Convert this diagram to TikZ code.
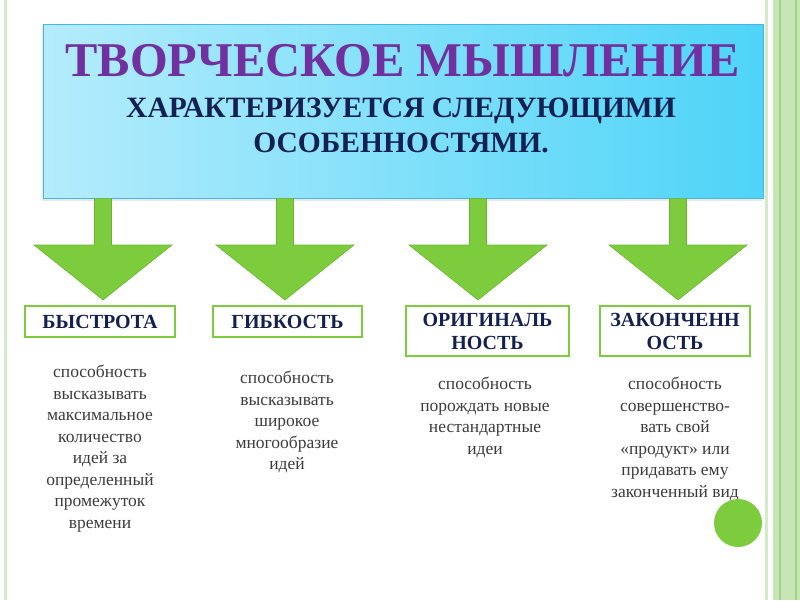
\documentclass[tikz,border=0pt]{standalone}
\usepackage{fontspec}
\setmainfont{Liberation Serif}
\usepackage{tikz}
\definecolor{leafgreen}{RGB}{125, 204, 62}
\definecolor{leafdark}{RGB}{106, 182, 48}
\definecolor{bandgreen}{RGB}{200, 229, 182}
\definecolor{paleline}{RGB}{212, 235, 199}
\definecolor{stripe}{RGB}{160, 212, 134}
\definecolor{skyleft}{RGB}{180, 236, 252}
\definecolor{skyright}{RGB}{78, 212, 248}
\definecolor{skyborder}{RGB}{72, 183, 221}
\definecolor{plum}{RGB}{112, 48, 160}
\definecolor{navy}{RGB}{20, 32, 80}
\definecolor{inkgray}{RGB}{60, 60, 60}
\usetikzlibrary{calc, shadows}

\begin{document}
\begin{tikzpicture}[x=1pt, y=-1pt,
    headbox/.style={draw=skyborder, line width=0.8pt, left color=skyleft,
                    right color=skyright, minimum width=720pt, minimum height=174pt,
                    drop shadow={shadow xshift=-1.5pt, shadow yshift=-2.5pt, opacity=0.18}},
    labelbox/.style={draw=leafgreen, line width=2pt, fill=white, text=navy,
                     font=\fontsize{20}{23}\selectfont\bfseries, align=center, inner sep=0pt},
    blurb/.style={text=inkgray, font=\fontsize{17.5}{21.5}\selectfont,
                  align=center, anchor=north, inner sep=0pt},
    fatarrow/.style={fill=leafgreen, draw=leafdark, line width=0.6pt}
]
    \useasboundingbox (0,0) rectangle (800,600);

    % page borders
    \fill[paleline] (4,0) rectangle (7,600);
    \fill[paleline] (765,0) rectangle (768,600);
    \fill[bandgreen] (773,0) rectangle (800,600);
    \fill[stripe] (779,0) rectangle (781,600);
    \fill[stripe] (795,0) rectangle (797,600);

    % heading
    \node[headbox] (title) at (403,111) {};
    \node[anchor=base, text=plum, font=\fontsize{48.5}{50}\selectfont\bfseries] (head)
        at (402.5,76) {ТВОРЧЕСКОЕ МЫШЛЕНИЕ};
    \node[anchor=north, align=center, inner sep=0pt, text=navy,
          font=\fontsize{29.5}{35}\selectfont\bfseries] (sub) at (401,98)
        {ХАРАКТЕРИЗУЕТСЯ СЛЕДУЮЩИМИ\\ОСОБЕННОСТЯМИ.};

    % four features
    \node[labelbox, minimum width=150pt, minimum height=31pt] (speed) at (100,321.5) {БЫСТРОТА};
    \node[labelbox, minimum width=149pt, minimum height=31pt] (flex) at (287.5,321.5) {ГИБКОСТЬ};
    \node[labelbox, minimum width=163pt, minimum height=50pt] (orig) at (487.5,331) {ОРИГИНАЛЬ\\НОСТЬ};
    \node[labelbox, minimum width=150pt, minimum height=50pt] (compl) at (675,331) {ЗАКОНЧЕНН\\ОСТЬ};

    \node[blurb] (speeddesc) at (100,365) {способность\\высказывать\\максимальное\\количество\\идей за\\определенный\\промежуток\\времени};
    \node[blurb] (flexdesc) at (287,371) {способность\\высказывать\\широкое\\многообразие\\идей};
    \node[blurb] (origdesc) at (485,377) {способность\\порождать новые\\нестандартные\\идеи};
    \node[blurb] (compldesc) at (675,377) {способность\\совершенство-\\вать свой\\«продукт» или\\придавать ему\\законченный вид};

    % arrow tips above the boxes
    \coordinate (tipA) at (103,300);
    \coordinate (tipB) at (285,300);
    \coordinate (tipC) at (478,300);
    \coordinate (tipD) at (678,300);

    % block arrows from the heading
    \draw[fatarrow] ($(title.south -| tipA)+(-8.5,0)$) -- ($(tipA)+(-8.5,-55)$) -- ($(tipA)+(-69,-55)$)
        -- (tipA) -- ($(tipA)+(69,-55)$) -- ($(tipA)+(8.5,-55)$) -- ($(title.south -| tipA)+(8.5,0)$) -- cycle;
    \draw[fatarrow] ($(title.south -| tipB)+(-8.5,0)$) -- ($(tipB)+(-8.5,-55)$) -- ($(tipB)+(-69,-55)$)
        -- (tipB) -- ($(tipB)+(69,-55)$) -- ($(tipB)+(8.5,-55)$) -- ($(title.south -| tipB)+(8.5,0)$) -- cycle;
    \draw[fatarrow] ($(title.south -| tipC)+(-8.5,0)$) -- ($(tipC)+(-8.5,-55)$) -- ($(tipC)+(-69,-55)$)
        -- (tipC) -- ($(tipC)+(69,-55)$) -- ($(tipC)+(8.5,-55)$) -- ($(title.south -| tipC)+(8.5,0)$) -- cycle;
    \draw[fatarrow] ($(title.south -| tipD)+(-8.5,0)$) -- ($(tipD)+(-8.5,-55)$) -- ($(tipD)+(-69,-55)$)
        -- (tipD) -- ($(tipD)+(69,-55)$) -- ($(tipD)+(8.5,-55)$) -- ($(title.south -| tipD)+(8.5,0)$) -- cycle;

    % green dot
    \node[circle, fill=leafgreen, minimum size=48pt, inner sep=0pt] (dot) at (738,523) {};
\end{tikzpicture}
\end{document}
